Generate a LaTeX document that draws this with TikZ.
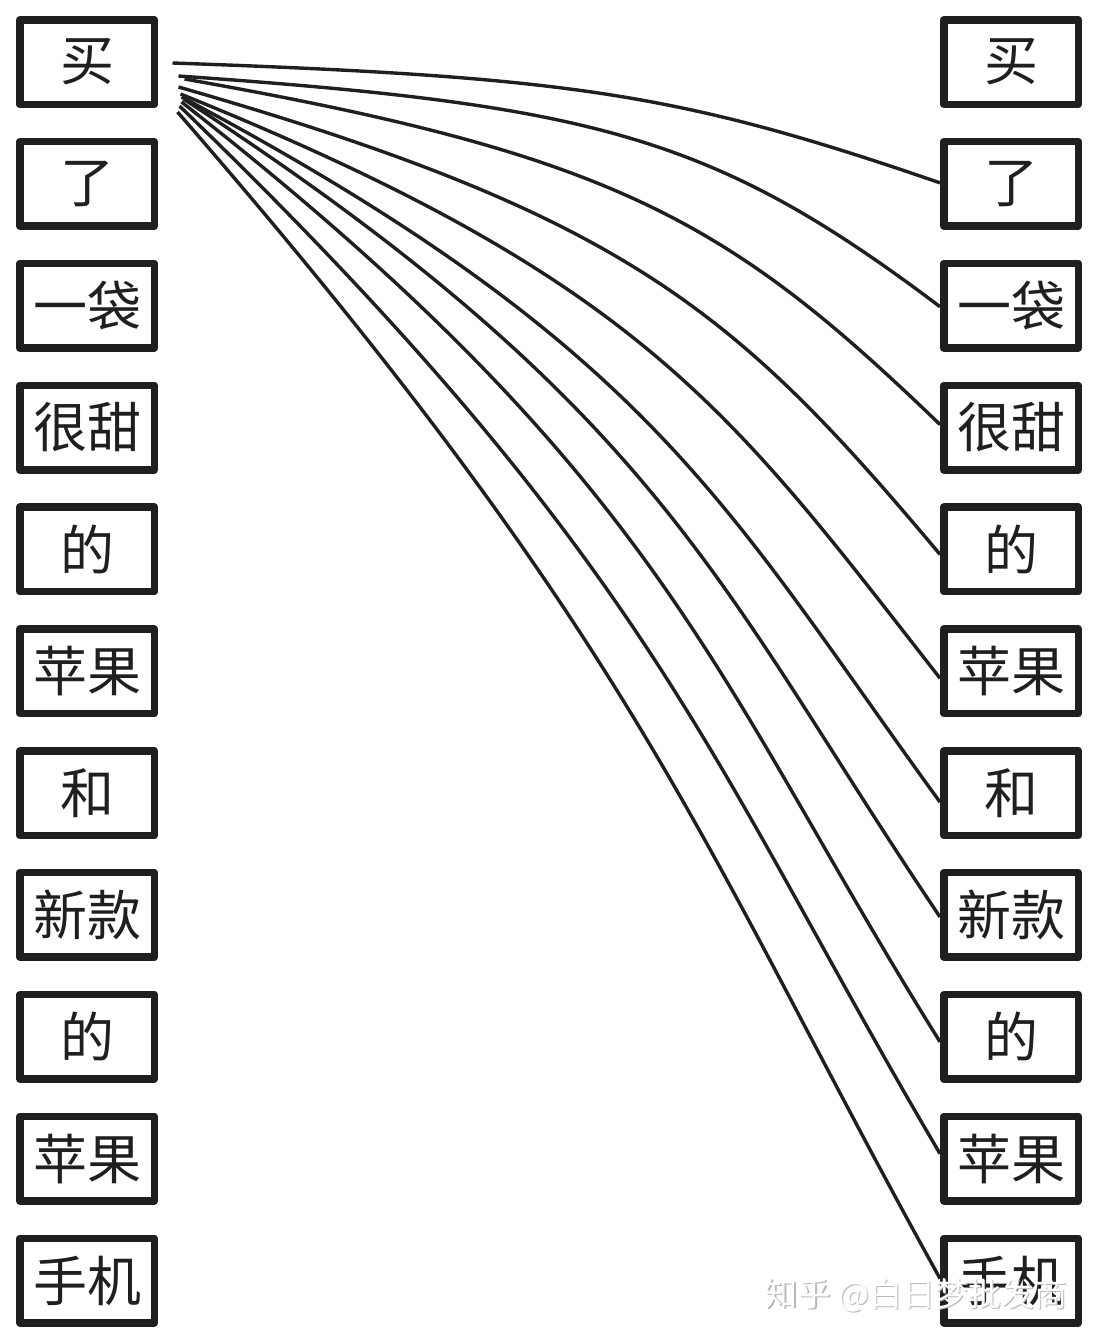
\documentclass[tikz,border=0pt]{standalone}
\usepackage{fontspec}
\setmainfont{Noto Sans CJK SC}

\tikzset{
  wordbox/.style={draw=black!88, line width=7.5pt, line join=round,
    minimum width=134.5pt, minimum height=84.5pt, inner sep=0pt,
    text=black!88, font=\fontsize{54}{60}\selectfont},
  link/.style={line width=3.4pt, draw=black!88},
  mark text/.style={font=\fontsize{33}{36}\selectfont},
}

\begin{document}
\begin{tikzpicture}[x=1pt,y=1pt]
\useasboundingbox (0,0) rectangle (1098,-1342);

% Word boxes (left: query side, right: key side)
\foreach \w [count=\i from 0] in {买,了,一袋,很甜,的,苹果,和,新款,的,苹果,手机} {
  \node[wordbox] (l\i) at (87,{-62-121.85*\i}) {\w};
  \node[wordbox] (r\i) at (1011,{-62-121.85*\i}) {\w};
}

% Links from the first word
\foreach \k/\dx/\dy/\ey/\a/\la/\b/\lb in {
    1/14.5/-1/1/-2/399/161/276,
    2/20.5/-14/-1/-4/420/143/282,
    3/26.5/-17/3/-10/436/136/295,
    4/20.5/-25/-5/-16/468/130/316,
    5/22.5/-32/-7/-22/500/128/339,
    6/23.5/-35/-9/-28/535/126/366,
    7/25.5/-37/-2/-33/575/124/394,
    8/23.5/-40/-5/-38/617/122/427,
    9/21.5/-44/5/-44/661/120.5/457,
    10/19.5/-50/2/-49/711/119/492} {
  \draw[link] ([shift={(\dx,\dy)}]l0.east)
    .. controls +(\a:\la) and +(\b:\lb) .. ([yshift=\ey]r\k.west);
}

% Watermark
\node[mark text, text=gray!55] (mark shadow) at (917.5,-1296.5) {知乎 @白日梦批发商};
\node[mark text, text=white] (mark) at (916,-1295) {知乎 @白日梦批发商};

\end{tikzpicture}
\end{document}
